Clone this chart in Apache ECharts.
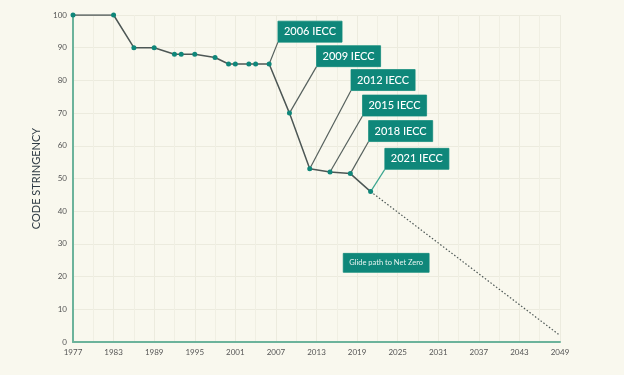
<!DOCTYPE html>
<html>
<head>
<meta charset="utf-8">
<script src="https://cdn.jsdelivr.net/npm/echarts@6/dist/echarts.min.js"></script>
<style>
html,body{margin:0;padding:0;background:#f9f8ee;}
#chart{width:624px;height:375px;}
</style>
</head>
<body>
<div id="chart"></div>
<script>
// Data
var years = [1977,1983,1986,1989,1992,1993,1995,1998,2000,2001,2003,2004,2006,2009,2012,2015,2018,2021];
var stringency = [100,100,90,90,88,88,88,87,85,85,85,85,85,70,53,52,51.5,46];
var glideYears = [2021,2049];
var glideValues = [46,2];
var codeLabels = ['2006 IECC','2009 IECC','2012 IECC','2015 IECC','2018 IECC','2021 IECC'];
var codeYears = [2006,2009,2012,2015,2018,2021];
var codeValues = [85,70,53,52,51.5,46];
// annotation anchor (box bottom-left) in data coordinates
var labelYears = [2007.3,2013.0,2018.1,2019.8,2020.7,2023.1];
var labelValues = [91.7,84.2,76.9,69.1,61.3,52.8];
var glideNote = 'Glide path to Net Zero';
var glideNoteAt = [2023.3,24.2];
var xTicks = {min:1977,max:2049,step:6};
var yTicks = {min:0,max:100,step:10};

var teal = '#0f877a';
var mainData = years.map(function(y,i){return [y,stringency[i]];});
var glideData = glideYears.map(function(y,i){return [y,glideValues[i]];});
var leaderData = codeYears.map(function(y,i){
  return {coords:[[y,codeValues[i]],[labelYears[i],labelValues[i]]],
          lineStyle:{color: i===5 ? '#3aa58f' : '#55605d'}};
});
var annData = codeLabels.map(function(t,i){return {value:[labelYears[i],labelValues[i]],name:t};});

var chart = echarts.init(document.getElementById('chart'));
chart.setOption({
  backgroundColor:'#f9f8ee',
  animation:false,
  grid:{left:73,right:64,top:15,bottom:33,containLabel:false},
  xAxis:{
    type:'value',min:xTicks.min,max:xTicks.max,interval:xTicks.step,
    axisLine:{lineStyle:{color:'#6cb39b',width:2}},
    axisTick:{show:false},
    axisLabel:{color:'#555',fontSize:8,fontFamily:'Lato',margin:6,formatter:function(v){return String(v);}},
    splitLine:{show:true,lineStyle:{color:'#ecebde',width:1}},
    minorTick:{show:false,splitNumber:2},
    minorSplitLine:{show:true,lineStyle:{color:'#f0efe3',width:1}}
  },
  yAxis:{
    type:'value',min:yTicks.min,max:yTicks.max,interval:yTicks.step,
    name:'CODE STRINGENCY',nameLocation:'middle',nameRotate:90,nameGap:28,
    nameTextStyle:{color:'#2f3b44',fontSize:11,fontFamily:'Lato'},
    axisLine:{show:true,lineStyle:{color:'#6cb39b',width:2}},
    axisTick:{show:false},
    axisLabel:{color:'#555',fontSize:8,fontFamily:'Lato',margin:6},
    splitLine:{show:true,lineStyle:{color:'#ecebde',width:1}}
  },
  series:[
    {type:'line',data:glideData,symbol:'none',
     lineStyle:{color:'#4d5755',width:1.2,type:[1.5,2]},z:2},
    {type:'lines',coordinateSystem:'cartesian2d',data:leaderData,
     lineStyle:{width:1.2,opacity:1},z:3},
    {type:'line',data:mainData,symbol:'circle',symbolSize:5,
     lineStyle:{color:'#4d5755',width:1.5},
     itemStyle:{color:teal},z:4},
    {type:'scatter',data:annData,symbolSize:0,z:5,silent:true,
     itemStyle:{opacity:1},
     label:{show:true,formatter:function(p){return p.name;},
       position:[0,0],align:'left',verticalAlign:'bottom',
       color:'#fff',fontSize:11,fontFamily:'Lato',fontWeight:500,
       backgroundColor:teal,borderColor:'#4faa9a',borderWidth:0.5,
       padding:[4,6,4,6],lineHeight:13}},
    {type:'scatter',data:[{value:glideNoteAt,name:glideNote}],symbolSize:0,z:5,silent:true,
     itemStyle:{opacity:1},
     label:{show:true,formatter:function(p){return p.name;},
       position:[0,0],align:'center',verticalAlign:'middle',
       color:'#e8f4f1',fontSize:7.5,fontFamily:'Lato',
       backgroundColor:teal,borderColor:'#4faa9a',borderWidth:0.5,
       padding:[5,6,5,6],lineHeight:9}}
  ]
});
</script>
</body>
</html>
